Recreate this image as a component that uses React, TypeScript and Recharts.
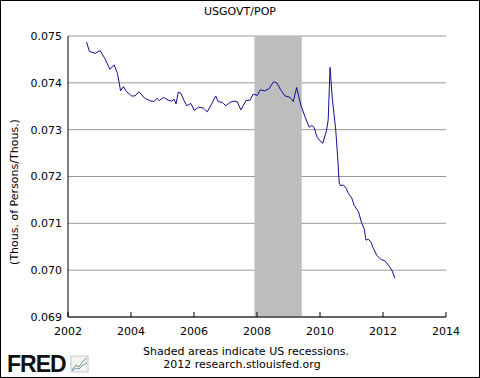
import React from 'react';
import {
  LineChart,
  Line,
  XAxis,
  YAxis,
  CartesianGrid,
  ReferenceArea,
} from 'recharts';

const years = [
  2002.59, 2002.68, 2002.86, 2003.02, 2003.17, 2003.33, 2003.47, 2003.57, 2003.67, 2003.76,
  2003.86, 2004.02, 2004.13, 2004.25, 2004.44, 2004.6, 2004.73, 2004.83, 2004.9, 2005.03,
  2005.18, 2005.29, 2005.37, 2005.43, 2005.5, 2005.58, 2005.68, 2005.77, 2005.9, 2006.01,
  2006.14, 2006.3, 2006.42, 2006.56, 2006.69, 2006.77, 2006.9, 2007.01, 2007.14, 2007.27,
  2007.37, 2007.49, 2007.65, 2007.78, 2007.88, 2008.01, 2008.1, 2008.25, 2008.39, 2008.52,
  2008.63, 2008.75, 2008.89, 2009.05, 2009.15, 2009.26, 2009.39, 2009.52, 2009.66, 2009.74,
  2009.81, 2009.91, 2010.0, 2010.09, 2010.21, 2010.26, 2010.32, 2010.39, 2010.5, 2010.56,
  2010.61, 2010.66, 2010.74, 2010.83, 2010.9, 2011.01, 2011.08, 2011.22, 2011.32, 2011.4,
  2011.46, 2011.53, 2011.61, 2011.69, 2011.8, 2011.93, 2012.06, 2012.17, 2012.28, 2012.38,
];

// USGOVT/POP (thous. of persons / thous.)
const values = [
  0.07487, 0.07467, 0.07463, 0.07469, 0.07452, 0.07429, 0.07438, 0.0742, 0.07383, 0.07392,
  0.07381, 0.07372, 0.07372, 0.07381, 0.07367, 0.07362, 0.0736, 0.07367, 0.07362, 0.07369,
  0.07363, 0.07361, 0.07365, 0.07355, 0.0738, 0.07378, 0.07363, 0.07351, 0.07356, 0.07341,
  0.07348, 0.07346, 0.07338, 0.07355, 0.07372, 0.0736, 0.07358, 0.07351, 0.07358, 0.07361,
  0.0736, 0.07342, 0.07362, 0.07363, 0.07376, 0.07373, 0.07385, 0.07383, 0.07388, 0.07402,
  0.074, 0.07385, 0.07372, 0.07369, 0.0736, 0.0739, 0.07353, 0.07328, 0.07305, 0.07309,
  0.07305, 0.07284, 0.07276, 0.07271, 0.07299, 0.07321, 0.07433, 0.07367, 0.07299, 0.07242,
  0.07186, 0.0718, 0.07182, 0.07175, 0.07164, 0.07154, 0.07139, 0.07125, 0.07101, 0.07089,
  0.07064, 0.07066, 0.07061, 0.07047, 0.07032, 0.07023, 0.0702, 0.07011, 0.07, 0.06983,
];

const xTicks = [2002, 2004, 2006, 2008, 2010, 2012, 2014];
const yTicks = [0.069, 0.07, 0.071, 0.072, 0.073, 0.074, 0.075];
const recession = [2007.92, 2009.42]; // Dec 2007 - Jun 2009

const data = years.map((year, i) => ({ year, value: values[i] }));

const FONT = '"DejaVu Sans", Verdana, sans-serif';

function XTick(props: any) {
  const { x, y, payload } = props;
  return (
    <g>
      <line x1={x} y1={y} x2={x} y2={y - 5} stroke="#000" />
      <text x={x} y={y + 18} textAnchor="middle" fontSize={11} fontFamily={FONT} fill="#000">
        {payload.value}
      </text>
    </g>
  );
}

export default function App() {
  return (
    <div style={{ position: 'absolute', left: 0, top: 0, width: 480, height: 378, background: '#fff' }}>
      <LineChart
        width={480}
        height={378}
        data={data}
        margin={{ top: 36, right: 34, bottom: 0, left: 0 }}
      >
        <CartesianGrid vertical={false} stroke="#999" />
        <XAxis
          dataKey="year"
          type="number"
          domain={[2002, 2014]}
          ticks={xTicks}
          height={61}
          stroke="#000"
          tickLine={false}
          tickSize={0}
          tickMargin={0}
          tick={<XTick />}
          interval={0}
        />
        <YAxis
          type="number"
          domain={[0.069, 0.075]}
          ticks={yTicks}
          width={68}
          stroke="#000"
          tickLine={false}
          tickSize={0}
          tickMargin={6}
          interval={0}
          tickFormatter={(v: number) => v.toFixed(3)}
          tick={{ fill: '#000', fontSize: 11, fontFamily: FONT }}
        />
        <ReferenceArea
          x1={recession[0]}
          x2={recession[1]}
          y1={0.069}
          y2={0.075}
          fill="#bdbdbd"
          fillOpacity={1}
          stroke="none"
        />
        <Line
          type="linear"
          dataKey="value"
          stroke="#10109a"
          strokeWidth={1}
          dot={false}
          isAnimationActive={false}
        />
      </LineChart>
      <svg
        width={480}
        height={378}
        style={{ position: 'absolute', left: 0, top: 0, pointerEvents: 'none' }}
      >
        <rect x={0.5} y={0.5} width={479} height={377} fill="none" stroke="#000" />
        <text x={240} y={15} textAnchor="middle" fontSize={11} fontFamily={FONT} fill="#000">
          USGOVT/POP
        </text>
        <text
          x={18}
          y={192}
          transform="rotate(-90, 18, 192)"
          textAnchor="middle"
          fontSize={11}
          fontFamily={FONT}
          fill="#000"
        >
          (Thous. of Persons/Thous.)
        </text>
        <text x={246} y={355} textAnchor="middle" fontSize={11} fontFamily={FONT} fill="#000">
          Shaded areas indicate US recessions.
        </text>
        <text x={242} y={368} textAnchor="middle" fontSize={11} fontFamily={FONT} fill="#000">
          2012 research.stlouisfed.org
        </text>
        <text
          x={7}
          y={372}
          fontSize={23}
          fontWeight="bold"
          fontFamily='"Liberation Sans", Arial, sans-serif'
          letterSpacing={-1}
          fill="#111"
        >
          FRED
        </text>
        <g>
          <rect x={71} y={356} width={17} height={16} fill="#f4f4f4" stroke="#c8c8c8" />
          <polyline points="72,370 76,365 79,367 83,361 87,358" fill="none" stroke="#6aa86a" strokeWidth={1} />
          <polyline points="72,371 76,368 79,369 83,365 87,363" fill="none" stroke="#7a8fb8" strokeWidth={1} />
        </g>
      </svg>
    </div>
  );
}
